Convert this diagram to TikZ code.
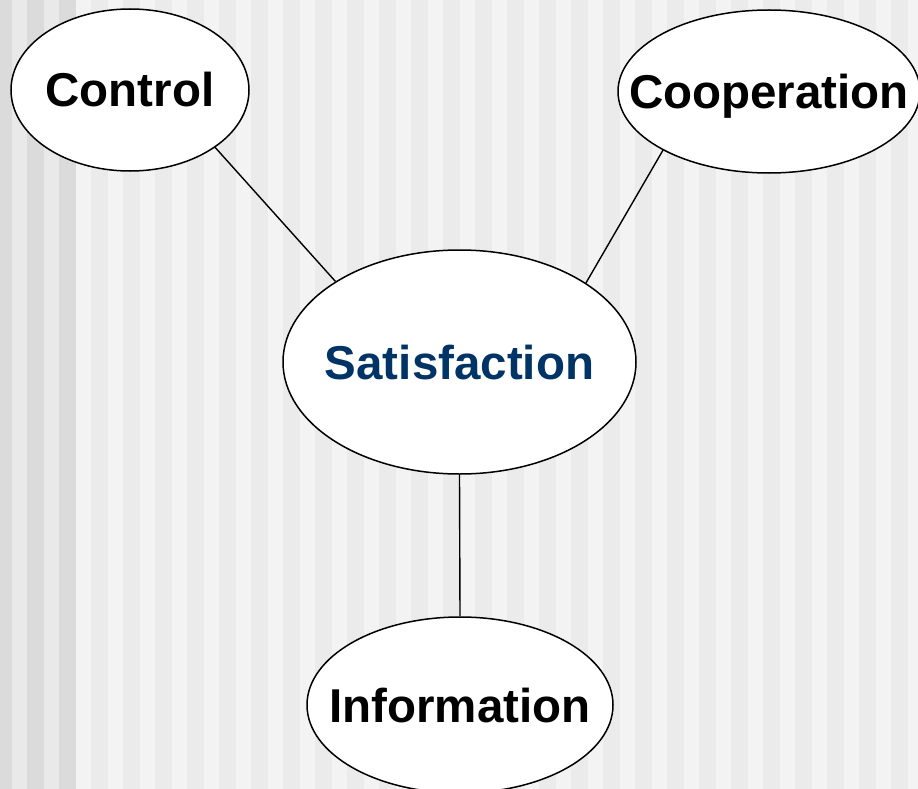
\documentclass[tikz,border=0pt]{standalone}
\usepackage{fontspec}
\setmainfont{Liberation Sans}
\usetikzlibrary{shapes.geometric}
\definecolor{bgA}{HTML}{F3F3F3}
\definecolor{bgB}{HTML}{EBEBEB}
\definecolor{bgC}{HTML}{E9E9E9}
\definecolor{bgD}{HTML}{DBDBDB}
\definecolor{satblue}{RGB}{0,51,102}
\tikzset{
  bubble/.style={ellipse, draw=black, line width=1.5pt, fill=white, inner sep=0pt},
  bubtext/.style={font=\fontsize{47.5}{57}\selectfont\bfseries, inner sep=0pt,
    text height=34pt, text depth=0pt, anchor=center},
  link/.style={draw=black, line width=1.4pt}
}
\begin{document}
\begin{tikzpicture}[x=1pt,y=-1pt]
\useasboundingbox (0,0) rectangle (918,789);
\clip (0,0) rectangle (918,789);
% background stripes
\fill[bgA] (0,0) rectangle (918,789);
\foreach \k in {3,...,28} {
  \fill[bgB] ({-5+32*\k},0) rectangle ({12+32*\k},789);
}
\fill[bgC] (0,0) rectangle (76,789);
\foreach \k in {0,1,2} {
  \fill[bgD] ({-5+32*\k},0) rectangle ({12+32*\k},789);
}
% nodes
\node[bubble, minimum width=238pt, minimum height=162pt] (c) at (130,90) {};
\node[bubble, minimum width=302pt, minimum height=163pt] (o) at (769,91.5) {};
\node[bubble, minimum width=353pt, minimum height=224pt] (s) at (459.5,362) {};
\node[bubble, minimum width=306pt, minimum height=176pt] (i) at (460,705) {};
\node[bubtext] (ct) at (c.center) {Control};
\node[bubtext] (ot) at (o.center) {Cooperation};
\node[bubtext, text=satblue] (st) at (s.center) {Satisfaction};
\node[bubtext] (it) at (i.center) {Information};
% connectors
\draw[link] (c.-34.9) -- (s.147.6);
\draw[link] (o.209.3) -- (s.32.4);
\draw[link] (s.south) -- (i.north);
\end{tikzpicture}
\end{document}
